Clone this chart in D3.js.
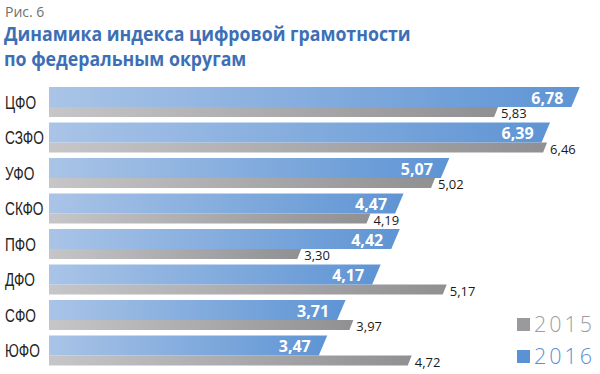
<!DOCTYPE html>
<html><head><meta charset="utf-8">
<script src="https://cdn.jsdelivr.net/npm/d3@7"></script>
<style>
html,body{margin:0;padding:0;background:#fff;}
svg{display:block;}
</style></head>
<body>
<script>
const categories = ["ЦФО","СЗФО","УФО","СКФО","ПФО","ДФО","СФО","ЮФО"];
const values2016 = [6.78,6.39,5.07,4.47,4.42,4.17,3.71,3.47];
const values2015 = [5.83,6.46,5.02,4.19,3.30,5.17,3.97,4.72];
const labels2016 = ["6,78","6,39","5,07","4,47","4,42","4,17","3,71","3,47"];
const labels2015 = ["5,83","6,46","5,02","4,19","3,30","5,17","3,97","4,72"];
const seriesNames = ["2015","2016"];
const titleLines = ["Динамика индекса цифровой грамотности","по федеральным округам"];
const figLabel = "Рис. 6";

const W = 600, H = 374;
const svg = d3.select("body").append("svg").attr("width", W).attr("height", H);
const defs = svg.append("defs");
const gb = defs.append("linearGradient").attr("id","gBlue").attr("x1","0").attr("x2","1").attr("y1","0").attr("y2","0");
gb.append("stop").attr("offset","0").attr("stop-color","#a9c4e7");
gb.append("stop").attr("offset","1").attr("stop-color","#5e94d4");
const gg = defs.append("linearGradient").attr("id","gGray").attr("x1","0").attr("x2","1").attr("y1","0").attr("y2","0");
gg.append("stop").attr("offset","0").attr("stop-color","#c6c6c8");
gg.append("stop").attr("offset","1").attr("stop-color","#909092");

const x15 = d3.scaleLinear().domain([0,7]).range([42.5, 42.5 + 7*77.8]);
const x16 = d3.scaleLinear().domain([0,7]).range([54, 54 + 7*76.3]);
const y = d3.scaleBand().domain(categories).range([87, 365.5]).paddingInner(5.5/35.5).paddingOuter(0);
const x0 = 49;
const blueH = 20, grayH = 10;

// title
svg.append("text").attr("x",5).attr("y",17).attr("font-family","Open Sans, sans-serif").attr("font-size",14)
  .attr("fill","#6f6f6f").text(figLabel);
titleLines.forEach((t,i)=>{
  svg.append("text").attr("transform",`translate(4,${41 + i*25}) scale(0.91,1)`).attr("font-family","Open Sans, sans-serif")
    .attr("font-weight","bold").attr("font-size",19.5).attr("fill","#3c6fb6").text(t);
});

const rows = svg.append("g").selectAll("g").data(categories).join("g");

// gray bars (2015)
rows.append("path").attr("fill","url(#gGray)").attr("d",(d,i)=>{
  const t = y(d) + blueH, b = t + grayH, xr = x15(values2015[i]);
  return `M${x0},${t}L${xr+2},${t}L${xr-2},${b}L${x0},${b}Z`;
});
// blue bars (2016)
rows.append("path").attr("fill","url(#gBlue)").attr("d",(d,i)=>{
  const t = y(d), b = t + blueH, xb = x16(values2016[i]);
  return `M${x0},${t}L${xb+8.5},${t}L${xb},${b}L${x0},${b}Z`;
});
// blue labels
rows.append("text").attr("x",(d,i)=>x16(values2016[i]) - 8).attr("y",d=>y(d)+16.5)
  .attr("text-anchor","end").attr("font-family","Open Sans, sans-serif").attr("font-weight","bold")
  .attr("font-size",16).attr("fill","#fff").text((d,i)=>labels2016[i]);
// gray labels
rows.append("text").attr("x",(d,i)=>x15(values2015[i]) + 5).attr("y",d=>y(d)+blueH+grayH+1)
  .attr("font-family","Open Sans, sans-serif").attr("font-size",13).attr("fill","#1a1a1a")
  .text((d,i)=>labels2015[i]);
// category labels
rows.append("text").attr("transform",d=>`translate(5,${y(d)+21.5}) scale(0.74,1)`)
  .attr("font-family","Liberation Sans, Arial, sans-serif").attr("font-size",18.5)
  .attr("fill","#222").text(d=>d);

// legend
const legColors = ["#9a9a9c","#5b92d4"];
const legText = ["#9d9d9f","#5b8fd0"];
const leg = svg.append("g").selectAll("g").data(seriesNames).join("g");
leg.append("rect").attr("x",517).attr("y",(d,i)=>318 + i*32).attr("width",13).attr("height",13)
  .attr("fill",(d,i)=>legColors[i]);
leg.append("text").attr("x",534).attr("y",(d,i)=>332 + i*32).attr("font-family","Open Sans, sans-serif")
  .attr("font-weight",300).attr("font-size",21.5).attr("letter-spacing",3).attr("fill",(d,i)=>legText[i]).text(d=>d);
</script>
</body></html>
